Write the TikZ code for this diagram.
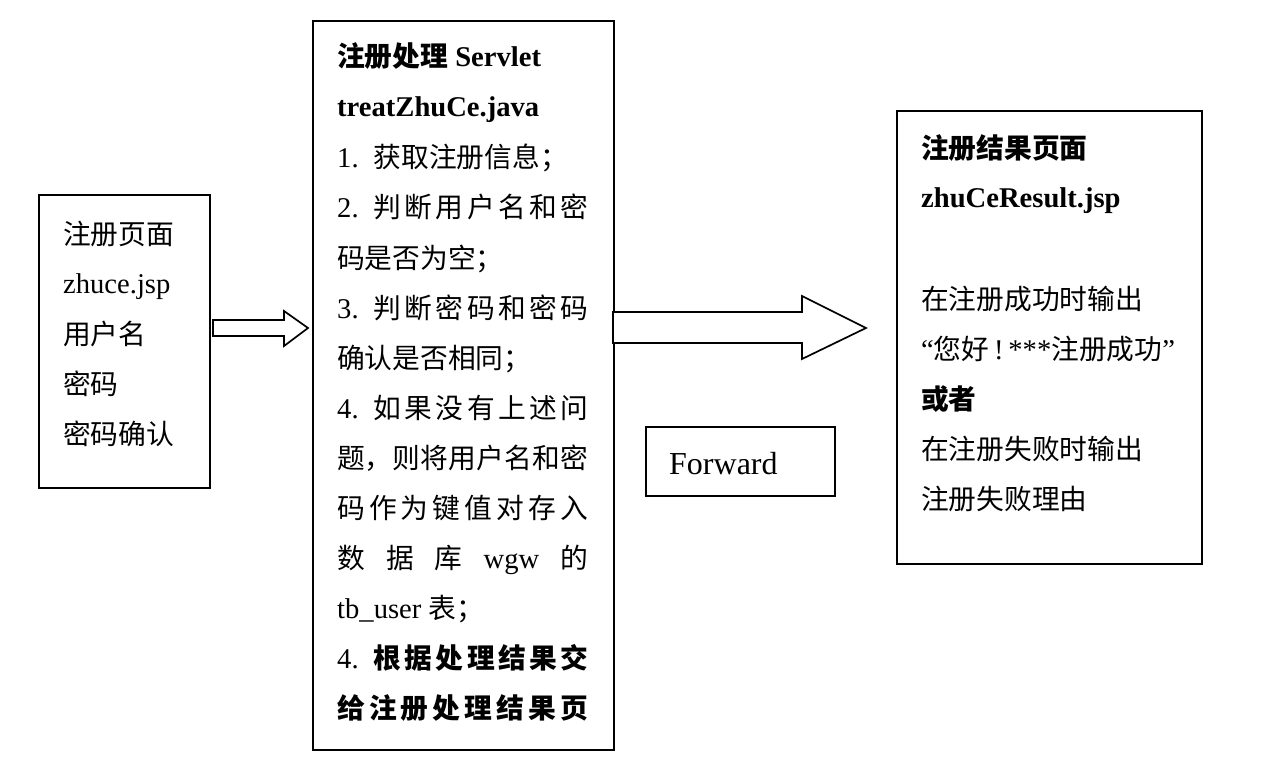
\documentclass[tikz,border=0pt]{standalone}
\usepackage{fontspec}
\setmainfont{Liberation Serif}
\newfontfamily\cjk{Noto Sans CJK SC}[Scale=0.97]
\newcommand\jline[1]{\hbox to 251pt{#1}}
\begin{document}
\begin{tikzpicture}[x=1pt,y=-1pt,
  box/.style={draw,line width=1.7pt,anchor=north west,inner sep=0pt},
  txt/.style={anchor=base west,inner sep=0pt,font=\fontsize{28.6}{34}\selectfont},
  blk/.style={draw,line width=1.7pt,fill=white,line join=miter}]
\useasboundingbox (0,0) rectangle (1261,762);
% boxes
\node[box,minimum width=171pt,minimum height=293pt] (login) at (38,194) {};
\node[box,minimum width=301pt,minimum height=729pt] (servlet) at (312,20) {};
\node[box,minimum width=305pt,minimum height=453pt] (result) at (896,110) {};
\node[box,minimum width=189pt,minimum height=69pt] (fwdbox) at (645,426) {};
% left texts
\node[txt] (l1) at (63,244) {\cjk 注册页面};
\node[txt] (l2) at (63,293) {zhuce.jsp};
\node[txt] (l3) at (63,344) {\cjk 用户名};
\node[txt] (l4) at (63,394) {\cjk 密码};
\node[txt] (l5) at (63,444) {\cjk 密码确认};
% middle texts
\node[txt] (m1) at (337,67) {\bfseries{\cjk 注册处理} Servlet};
\node[txt] (m2) at (337,117) {\bfseries treatZhuCe.java};
\node[txt] (m3) at (337,168) {1.\hspace{15pt}{\cjk 获取注册信息；}};
\node[txt] (m4) at (337,218) {\jline{2.\hspace{15pt}{\cjk 判\hfil 断\hfil 用\hfil 户\hfil 名\hfil 和\hfil 密}}};
\node[txt] (m5) at (337,268) {\cjk 码是否为空；};
\node[txt] (m6) at (337,318) {\jline{3.\hspace{15pt}{\cjk 判\hfil 断\hfil 密\hfil 码\hfil 和\hfil 密\hfil 码}}};
\node[txt] (m7) at (337,368) {\cjk 确认是否相同；};
\node[txt] (m8) at (337,418) {\jline{4.\hspace{15pt}{\cjk 如\hfil 果\hfil 没\hfil 有\hfil 上\hfil 述\hfil 问}}};
\node[txt] (m9) at (337,468) {\jline{\cjk 题，\hfil 则\hfil 将\hfil 用\hfil 户\hfil 名\hfil 和\hfil 密}};
\node[txt] (m10) at (337,518) {\jline{\cjk 码\hfil 作\hfil 为\hfil 键\hfil 值\hfil 对\hfil 存\hfil 入}};
\node[txt] (m11) at (337,568) {\jline{{\cjk 数}\hfil{\cjk 据}\hfil{\cjk 库}\hfil wgw\hfil{\cjk 的}}};
\node[txt] (m12) at (337,618) {tb\_user {\cjk 表；}};
\node[txt] (m13) at (337,668) {\jline{4.\hspace{15pt}{\cjk\bfseries 根\hfil 据\hfil 处\hfil 理\hfil 结\hfil 果\hfil 交}}};
\node[txt] (m14) at (337,718) {\jline{\cjk\bfseries 给\hfil 注\hfil 册\hfil 处\hfil 理\hfil 结\hfil 果\hfil 页}};
% right texts
\node[txt] (r1) at (921,159) {\cjk\bfseries 注册结果页面};
\node[txt] (r2) at (921,208) {\bfseries zhuCeResult.jsp};
\node[txt] (r3) at (921,309) {\cjk 在注册成功时输出};
\node[txt] (r4) at (921,359) {“{\cjk 您好}\,!\,***{\cjk 注册成功}”};
\node[txt] (r5) at (921,409) {\cjk\bfseries 或者};
\node[txt] (r6) at (921,459) {\cjk 在注册失败时输出};
\node[txt] (r7) at (921,509) {\cjk 注册失败理由};
% forward label
\node[anchor=base west,inner sep=0pt,font=\fontsize{32}{38}\selectfont] (fwd) at (669,474) {Forward};
% block arrows
\draw[blk] (213,320) -- (284,320) -- (284,311) -- (308,328) -- (284,346) -- (284,336) -- (213,336) -- cycle;
\draw[blk] (613,312) -- (802,312) -- (802,296) -- (866,328) -- (802,359) -- (802,343) -- (613,343) -- cycle;
\end{tikzpicture}
\end{document}
